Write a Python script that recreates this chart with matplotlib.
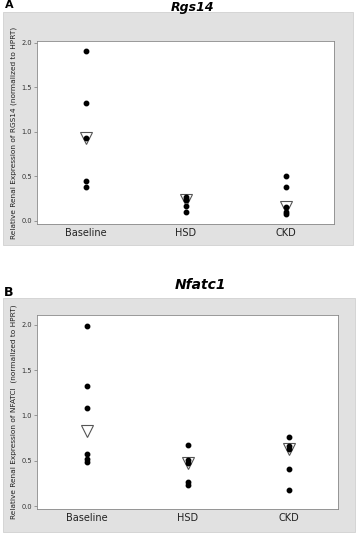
import numpy as np
import matplotlib.pyplot as plt
from matplotlib.patches import Rectangle

groups = ["Baseline", "HSD", "CKD"]

# Rgs14 values
rgs14_baseline = [1.91, 1.32, 0.93, 0.45, 0.38]
rgs14_hsd = [0.27, 0.25, 0.23, 0.17, 0.10]
rgs14_ckd = [0.50, 0.38, 0.16, 0.10, 0.08]

# Nfatc1 values
nfatc1_baseline = [1.99, 1.33, 1.08, 0.57, 0.52, 0.49]
nfatc1_hsd = [0.67, 0.51, 0.48, 0.27, 0.23]
nfatc1_ckd = [0.76, 0.66, 0.63, 0.41, 0.18]

yticks = [0.0, 0.5, 1.0, 1.5, 2.0]

W, H = 358, 535
fig = plt.figure(figsize=(W / 100, H / 100), dpi=100)


def px_box(x0, y0, x1, y1):
    """Figure-fraction rect from pixel corners (top-left origin)."""
    return [x0 / W, 1 - y1 / H, (x1 - x0) / W, (y1 - y0) / H]


# gray panel backgrounds
for x0, y0, x1, y1 in [(3, 12, 353, 245), (3, 298, 355, 532)]:
    l, b, w, h = px_box(x0, y0, x1, y1)
    fig.patches.append(Rectangle((l, b), w, h, transform=fig.transFigure,
                                 facecolor="#e1e1e1", edgecolor="#d0d0d0", lw=0.6, zorder=-5))


def draw_panel(rect, data, ylim, ylabel):
    ax = fig.add_axes(rect)
    ax.set_facecolor("white")
    for i, vals in enumerate(data):
        ax.plot([i] * len(vals), vals, "o", color="black", ms=3.2, zorder=3)
        ax.plot(i, np.median(vals), "v", mfc="none", mec="#555555", mew=0.8, ms=8, zorder=2)
    ax.set_xlim(-0.49, 2.48)
    ax.set_ylim(*ylim)
    ax.set_xticks(range(len(groups)))
    ax.set_xticklabels(groups, fontsize=7, color="#222222")
    ax.tick_params(axis="x", length=0, pad=3)
    ax.set_yticks(yticks)
    ax.set_yticklabels([f"{t:.1f}" for t in yticks], fontsize=4.8, color="#333333")
    ax.tick_params(axis="y", length=2, width=0.5, color="#777777", pad=1.5)
    for s in ax.spines.values():
        s.set_color("#888888")
        s.set_linewidth(0.6)
    ax.set_ylabel(ylabel, fontsize=5.3, color="#222222", labelpad=3)
    return ax


draw_panel(px_box(37, 41, 334, 224), [rgs14_baseline, rgs14_hsd, rgs14_ckd],
           (-0.034, 2.02), "Relative Renal Expression of RGS14 (normalized to HPRT)")
draw_panel(px_box(37, 315, 338, 509), [nfatc1_baseline, nfatc1_hsd, nfatc1_ckd],
           (-0.033, 2.11), "Relative Renal Expression of NFATCI  (normalized to HPRT)")

fig.text(193 / W, 1 - 0.5 / H, "Rgs14", fontsize=9, fontstyle="italic",
         fontweight="bold", ha="center", va="top")
fig.text(5 / W, 1 - 0.5 / H, "A", fontsize=8, fontweight="bold", ha="left", va="top")
fig.text(200 / W, 1 - 285 / H, "Nfatc1", fontsize=10, fontstyle="italic",
         fontweight="bold", ha="center", va="center")
fig.text(4 / W, 1 - 293 / H, "B", fontsize=9, fontweight="bold", ha="left", va="center")

fig.savefig("out.png", dpi=100)
